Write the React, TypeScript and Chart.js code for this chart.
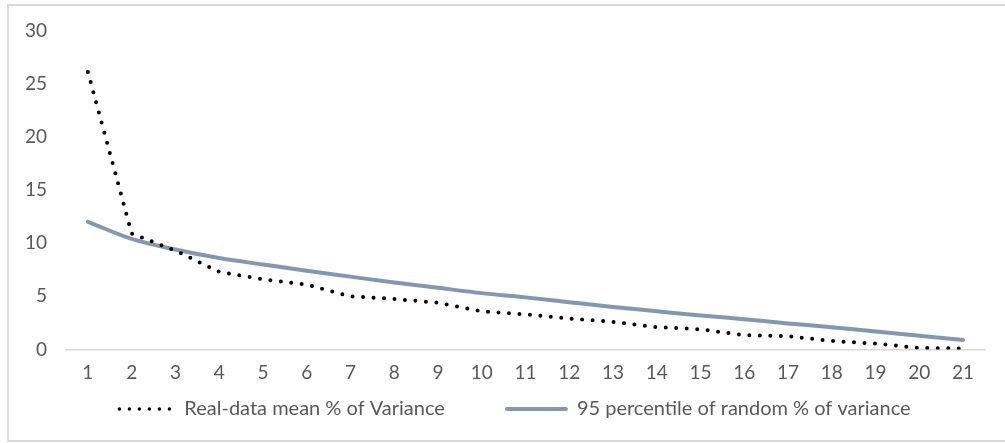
import React, { useEffect, useRef } from 'react';
import { Chart, registerables } from 'chart.js';

Chart.register(...registerables);

const categories = ['1', '2', '3', '4', '5', '6', '7', '8', '9', '10', '11', '12', '13', '14', '15', '16', '17', '18', '19', '20', '21'];
const realDataMean = [26.1, 10.9, 9.3, 7.3, 6.6, 6.1, 5.0, 4.75, 4.4, 3.6, 3.3, 2.9, 2.6, 2.1, 1.9, 1.35, 1.25, 0.8, 0.55, 0.15, 0.1];
const randomPercentile95 = [12.0, 10.4, 9.4, 8.6, 8.0, 7.4, 6.85, 6.3, 5.8, 5.3, 4.9, 4.45, 4.0, 3.6, 3.2, 2.85, 2.45, 2.1, 1.7, 1.3, 0.9];
const seriesLabels = ['Real-data mean % of Variance', '95 percentile of random % of variance'];
const yMin = 0;
const yMax = 30;
const yStep = 5;

const FONT = 'Lato';
const FONT_SIZE = 19;
const LEGEND_FONT_SIZE = 20;
const TEXT_COLOR = '#595959';
const DOT_COLOR = '#000000';
const LINE_COLOR = '#8497B0';
const FRAME_COLOR = '#d9d9d9';

const framePlugin = {
  id: 'frame',
  beforeDraw(chart: any) {
    const ctx = chart.ctx;
    ctx.save();
    ctx.fillStyle = '#ffffff';
    ctx.fillRect(0, 0, chart.width, chart.height);
    ctx.strokeStyle = FRAME_COLOR;
    ctx.lineWidth = 2;
    ctx.strokeRect(8, 5, 1010, 436);
    ctx.restore();
  },
};

const legendPlugin = {
  id: 'customLegend',
  afterDraw(chart: any) {
    const ctx = chart.ctx;
    const symW = [58, 63];
    const symGap = 9;
    const itemGap = 60;
    const centerX = 514;
    const y = 409;
    ctx.save();
    ctx.font = `${LEGEND_FONT_SIZE}px ${FONT}`;
    const ds = chart.data.datasets;
    const widths = ds.map((d: any) => ctx.measureText(d.label).width);
    let total = 0;
    ds.forEach((d: any, i: number) => {
      total += symW[i] + symGap + widths[i];
      if (i > 0) total += itemGap;
    });
    let x = centerX - total / 2;
    ds.forEach((d: any, i: number) => {
      ctx.beginPath();
      ctx.strokeStyle = d.borderColor;
      ctx.lineCap = 'round';
      if (i === 0) {
        ctx.lineWidth = 3.5;
        ctx.setLineDash([0, 10]);
        ctx.moveTo(x + 2, y);
        ctx.lineTo(x + symW[i] - 4, y);
      } else {
        ctx.lineWidth = 4;
        ctx.setLineDash([]);
        ctx.moveTo(x + 2, y);
        ctx.lineTo(x + symW[i] - 2, y);
      }
      ctx.stroke();
      ctx.setLineDash([]);
      ctx.fillStyle = TEXT_COLOR;
      ctx.textAlign = 'left';
      ctx.textBaseline = 'middle';
      ctx.fillText(d.label, x + symW[i] + symGap, y);
      x += symW[i] + symGap + widths[i] + itemGap;
    });
    ctx.restore();
  },
};

export default function App() {
  const canvasRef = useRef<HTMLCanvasElement | null>(null);

  useEffect(() => {
    if (!canvasRef.current) return;
    const chart = new Chart(canvasRef.current, {
      type: 'line',
      data: {
        labels: categories,
        datasets: [
          {
            label: seriesLabels[0],
            data: realDataMean,
            borderColor: DOT_COLOR,
            backgroundColor: DOT_COLOR,
            borderWidth: 4,
            borderDash: [0, 10.5],
            borderCapStyle: 'round',
            pointRadius: 0,
            tension: 0,
            fill: false,
          },
          {
            label: seriesLabels[1],
            data: randomPercentile95,
            borderColor: LINE_COLOR,
            backgroundColor: LINE_COLOR,
            borderWidth: 4,
            borderCapStyle: 'round',
            pointRadius: 0,
            cubicInterpolationMode: 'monotone',
            fill: false,
          },
        ],
      },
      options: {
        responsive: false,
        animation: false,
        devicePixelRatio: 1,
        layout: { padding: { top: 26, right: 20, bottom: 0, left: 0 } },
        plugins: {
          legend: { display: false },
          tooltip: { enabled: false },
        },
        scales: {
          x: {
            type: 'category',
            offset: true,
            grid: { display: false, drawTicks: false },
            border: { display: true, color: FRAME_COLOR, width: 1.5 },
            ticks: {
              color: TEXT_COLOR,
              font: { family: FONT, size: FONT_SIZE },
              padding: 12,
              maxRotation: 0,
              autoSkip: false,
            },
            afterFit: (scale: any) => {
              scale.height = 93.5;
            },
          },
          y: {
            min: yMin,
            max: yMax,
            grid: { display: false, drawTicks: false },
            border: { display: false },
            ticks: {
              stepSize: yStep,
              color: TEXT_COLOR,
              font: { family: FONT, size: FONT_SIZE },
              padding: 19,
            },
            afterFit: (scale: any) => {
              scale.width = 66;
            },
          },
        },
      },
      plugins: [framePlugin, legendPlugin],
    } as any);
    return () => chart.destroy();
  }, []);

  return (
    <div style={{ position: 'fixed', left: 0, top: 0, width: 1005, height: 443 }}>
      <canvas ref={canvasRef} width={1005} height={443} style={{ width: 1005, height: 443, display: 'block' }} />
    </div>
  );
}
